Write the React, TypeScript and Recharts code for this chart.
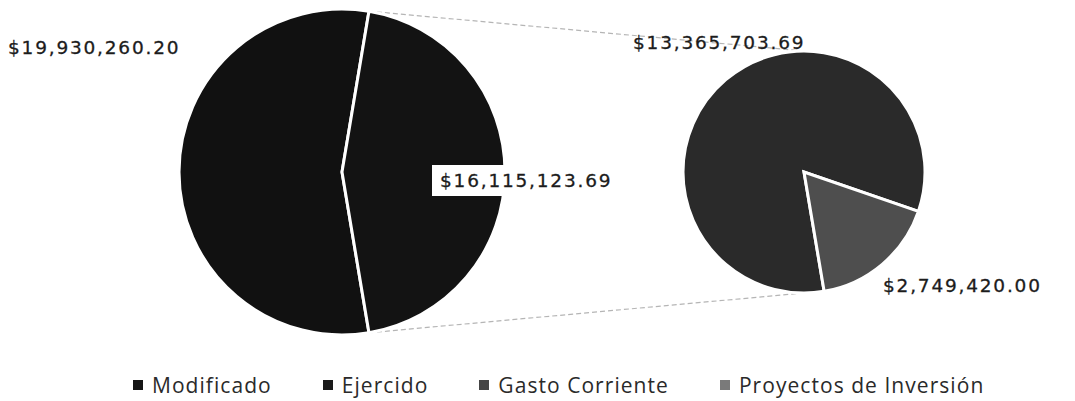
import React from "react";
import { PieChart, Pie, Cell, Legend } from "recharts";

// presupuesto total (pastel grande) y desglose de lo ejercido (pastel chico)
const mainCategories = ["Modificado", "Ejercido"];
const mainValues = [19930260.2, 16115123.69];
const subCategories = ["Gasto Corriente", "Proyectos de Inversión"];
const subValues = [13365703.69, 2749420.0];

const mainColors = ["#111111", "#131313"];
const subColors = ["#2a2a2a", "#4e4e4e"];
const legendColors = ["#151515", "#1a1a1a", "#454545", "#7a7a7a"];

const W = 1075;
const H = 401;
const BIG = { cx: 342, cy: 172, r: 163 };
const SMALL = { cx: 804, cy: 172, r: 121 };

const mainData = mainCategories.map((name, i) => ({ name, value: mainValues[i] }));
const subData = subCategories.map((name, i) => ({ name, value: subValues[i] }));

const fmt = (v: number) =>
  "$" + v.toLocaleString("en-US", { minimumFractionDigits: 2, maximumFractionDigits: 2 });

const labelFont = {
  fontFamily: "DejaVu Sans",
  fontSize: 18.5,
  letterSpacing: 1.8,
  fill: "#1c1c1c",
  stroke: "#1c1c1c",
  strokeWidth: 0.3,
};

// offsets from the pie centre, per slice
const mainLabelPos = [
  { dx: -334, dy: -125 },
  { dx: 98, dy: 8 },
];
const subLabelPos = [
  { dx: -171, dy: -130 },
  { dx: 79, dy: 113 },
];

const makeLabel = (pos: { dx: number; dy: number }[], boxed: number) => (props: any) => {
  const { cx, cy, index, value } = props;
  const p = pos[index];
  const x = cx + p.dx;
  const y = cy + p.dy;
  return (
    <g key={`lbl-${index}`}>
      {index === boxed && <rect x={x - 8} y={y - 15} width={190} height={31} fill="#fff" />}
      <text x={x} y={y} dominantBaseline="central" textAnchor="start" style={labelFont}>
        {fmt(value)}
      </text>
    </g>
  );
};

const renderLegend = () => {
  const names = [...mainCategories, ...subCategories];
  return (
    <div
      style={{
        display: "flex",
        gap: 51,
        paddingLeft: 133,
        fontFamily: "Open Sans",
        fontSize: 21,
        letterSpacing: 1.05,
        color: "#2a2a2a",
      }}
    >
      {names.map((n, i) => (
        <div key={n} style={{ display: "flex", alignItems: "center" }}>
          <span
            style={{
              width: 10,
              height: 10,
              background: legendColors[i],
              marginRight: 9,
              display: "inline-block",
            }}
          />
          {n}
        </div>
      ))}
    </div>
  );
};

export default function App() {
  const total = mainValues[0] + mainValues[1];
  // Ejercido centrado a la derecha, mirando al pastel chico
  const half = (180 * mainValues[1]) / total;
  const a = (half * Math.PI) / 180;
  const topPt = { x: BIG.cx + BIG.r * Math.cos(a), y: BIG.cy - BIG.r * Math.sin(a) };
  const botPt = { x: BIG.cx + BIG.r * Math.cos(a), y: BIG.cy + BIG.r * Math.sin(a) };

  return (
    <div style={{ position: "absolute", left: 0, top: 0, width: W, height: H, background: "#fff" }}>
      <svg width={W} height={H} style={{ position: "absolute", left: 0, top: 0 }}>
        <line
          x1={topPt.x}
          y1={topPt.y}
          x2={SMALL.cx}
          y2={SMALL.cy - SMALL.r}
          stroke="#b5b5b5"
          strokeWidth={1.2}
          strokeDasharray="5 3"
        />
        <line
          x1={botPt.x}
          y1={botPt.y}
          x2={SMALL.cx}
          y2={SMALL.cy + SMALL.r}
          stroke="#b5b5b5"
          strokeWidth={1.2}
          strokeDasharray="5 3"
        />
      </svg>
      <PieChart
        width={W}
        height={H}
        margin={{ top: 0, right: 0, bottom: 0, left: 0 }}
        style={{ position: "absolute", left: 0, top: 0 }}
      >
        <Pie
          data={mainData}
          dataKey="value"
          nameKey="name"
          cx={BIG.cx}
          cy={BIG.cy}
          outerRadius={BIG.r}
          startAngle={half}
          endAngle={half + 360}
          stroke="#fff"
          strokeWidth={3}
          label={makeLabel(mainLabelPos, 1)}
          labelLine={false}
          isAnimationActive={false}
        >
          {mainData.map((d, i) => (
            <Cell key={d.name} fill={mainColors[i]} />
          ))}
        </Pie>
        <Pie
          data={subData}
          dataKey="value"
          nameKey="name"
          cx={SMALL.cx}
          cy={SMALL.cy}
          outerRadius={SMALL.r}
          startAngle={-19}
          endAngle={341}
          stroke="#fff"
          strokeWidth={3}
          label={makeLabel(subLabelPos, -1)}
          labelLine={false}
          isAnimationActive={false}
        >
          {subData.map((d, i) => (
            <Cell key={d.name} fill={subColors[i]} />
          ))}
        </Pie>
        <Legend
          content={renderLegend}
          wrapperStyle={{ left: 0, top: 371, width: W }}
        />
      </PieChart>
    </div>
  );
}
